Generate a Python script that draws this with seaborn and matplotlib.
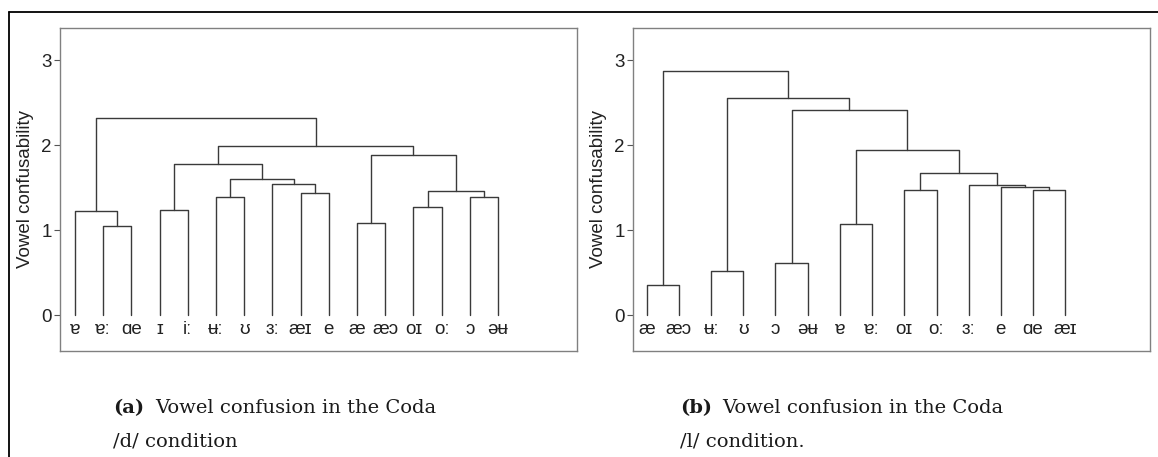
import numpy as np
import pandas as pd
import matplotlib
matplotlib.use('Agg')
import matplotlib.pyplot as plt
from matplotlib.lines import Line2D
import seaborn as sns

# leaf order as drawn, left to right
leaves_a = ['ɐ', 'ɐː', 'ɑe', 'ɪ', 'iː', 'ʉː', 'ʊ', 'ɜː', 'æɪ', 'e',
            'æ', 'æɔ', 'oɪ', 'oː', 'ɔ', 'əʉ']
# merges: (left child, right child, height); ids >= n refer to earlier merges
merges_a = [(1, 2, 1.05), (0, 16, 1.23), (3, 4, 1.24), (5, 6, 1.39),
            (8, 9, 1.44), (7, 20, 1.55), (19, 21, 1.60), (18, 22, 1.78),
            (10, 11, 1.09), (12, 13, 1.28), (14, 15, 1.39), (25, 26, 1.46),
            (24, 27, 1.89), (23, 28, 1.99), (17, 29, 2.32)]

leaves_b = ['æ', 'æɔ', 'ʉː', 'ʊ', 'ɔ', 'əʉ', 'ɐ', 'ɐː', 'oɪ', 'oː',
            'ɜː', 'e', 'ɑe', 'æɪ']
merges_b = [(0, 1, 0.36), (2, 3, 0.52), (4, 5, 0.61), (6, 7, 1.07),
            (8, 9, 1.47), (12, 13, 1.47), (11, 19, 1.51), (10, 20, 1.53),
            (18, 21, 1.68), (17, 22, 1.95), (16, 23, 2.42), (15, 24, 2.56),
            (14, 25, 2.88)]

captions = [('(a)', 'Vowel confusion in the Coda', '/d/ condition'),
            ('(b)', 'Vowel confusion in the Coda', '/l/ condition.')]

sns.set_style('white')
plt.rcParams['font.family'] = ['Liberation Sans', 'DejaVu Sans']


def segments(leaves, merges):
    n = len(leaves)
    xs = {i: i + 1 for i in range(n)}
    hs = {i: 0.0 for i in range(n)}
    rows = []
    for k, (l, r, h) in enumerate(merges):
        node = n + k
        seg = [(xs[l], hs[l]), (xs[l], h), (xs[r], h), (xs[r], hs[r])]
        for x, y in seg:
            rows.append({'seg': k, 'x': x, 'y': y})
        xs[node] = (xs[l] + xs[r]) / 2
        hs[node] = h
    return pd.DataFrame(rows)


fig = plt.figure(figsize=(11.58, 4.57), dpi=100)

panels = [(leaves_a, merges_a, 60, (0.47, 18.8)),
          (leaves_b, merges_b, 633, (0.575, 16.63))]

for leaves, merges, left_px, xlim in panels:
    ax = fig.add_axes([left_px / 1158, 106 / 457, 517 / 1158, 323 / 457])
    df = segments(leaves, merges)
    sns.lineplot(data=df, x='x', y='y', units='seg', estimator=None,
                 sort=False, color='#3a3a3a', linewidth=1.0, ax=ax)
    for i, lab in enumerate(leaves):
        ax.text(i + 1, -0.225, lab, ha='center', va='baseline',
                fontsize=13.5, color='#222222')
    ax.set_xlim(*xlim)
    ax.set_ylim(-0.42, 3.38)
    ax.set_xticks([])
    ax.set_yticks([0, 1, 2, 3])
    ax.tick_params(axis='y', left=True, length=4, width=0.8,
                   color='#555555', labelsize=13.5, labelcolor='#222222',
                   pad=2)
    ax.set_xlabel('')
    ax.set_ylabel('Vowel confusability', fontsize=13.5, color='#222222',
                  labelpad=5)
    for sp in ax.spines.values():
        sp.set_color('#808080')
        sp.set_linewidth(1.0)

# outer frame (top and left edges)
fig.add_artist(Line2D([9 / 1158, 1], [1 - 12 / 457] * 2,
                      transform=fig.transFigure, color='black', lw=1.3))
fig.add_artist(Line2D([9 / 1158] * 2, [0, 1 - 12 / 457],
                      transform=fig.transFigure, color='black', lw=1.3))

for (tag, line1, line2), x_px in zip(captions, [113, 680]):
    fig.text(x_px / 1158, 1 - 413 / 457, tag, fontsize=14,
             family='DejaVu Serif', weight='bold', color='#1a1a1a')
    fig.text((x_px + 42) / 1158, 1 - 413 / 457, line1, fontsize=14,
             family='DejaVu Serif', color='#1a1a1a')
    fig.text(x_px / 1158, 1 - 447 / 457, line2, fontsize=14,
             family='DejaVu Serif', color='#1a1a1a')

fig.savefig('out.png', dpi=100)
